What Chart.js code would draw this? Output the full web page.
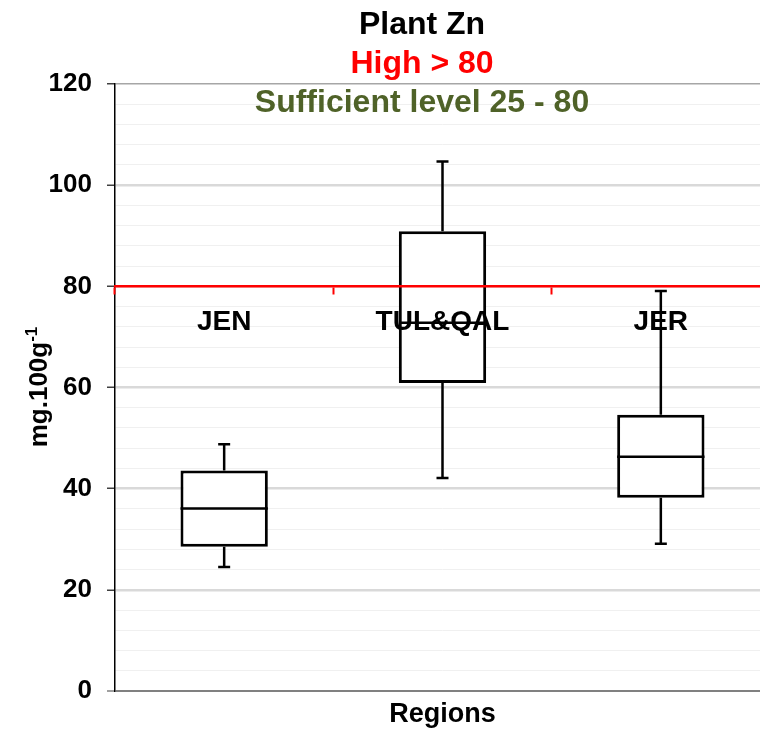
<!DOCTYPE html>
<html>
<head>
<meta charset="utf-8">
<script src="https://cdn.jsdelivr.net/npm/chart.js@4"></script>
<style>
  html, body { margin: 0; padding: 0; background: #fff; overflow: hidden; }
  canvas { display: block; }
</style>
</head>
<body>
<canvas id="zn" width="780" height="733"></canvas>
<script>
const FONT = "'Liberation Sans', Arial, sans-serif";

// box plot values per region (mg.100g-1)
const regions = ['JEN', 'TUL&QAL', 'JER'];
const whiskerLow = [24.5, 42.1, 29.1];
const q1 = [28.5, 60.9, 38.2];
const median = [36.1, 72.8, 46.3];
const q3 = [43.6, 90.9, 54.6];
const whiskerHigh = [48.8, 104.7, 79.1];

const yMin = 0;
const yMax = 120;
const yMajorStep = 20;
const yMinorStep = 4;
const highLevel = 80;

const titleLines = ['Plant Zn', 'High > 80', 'Sufficient level 25 - 80'];
const titleColors = ['#000000', '#ff0000', '#4f6228'];

// medians + whiskers on top of the floating bars
const whiskers = {
  id: 'whiskers',
  afterDatasetsDraw(chart) {
    const { ctx } = chart;
    const y = chart.scales.y;
    const meta = chart.getDatasetMeta(0);
    ctx.save();
    ctx.strokeStyle = '#000';
    ctx.lineWidth = 2.5;
    meta.data.forEach((bar, i) => {
      const half = bar.width / 2;
      const cap = 6;
      const yMed = y.getPixelForValue(median[i]);
      const yHi = y.getPixelForValue(whiskerHigh[i]);
      const yLo = y.getPixelForValue(whiskerLow[i]);
      const yQ3 = y.getPixelForValue(q3[i]);
      const yQ1 = y.getPixelForValue(q1[i]);
      ctx.beginPath();
      ctx.moveTo(bar.x - half, yMed); ctx.lineTo(bar.x + half, yMed);
      ctx.moveTo(bar.x, yQ3); ctx.lineTo(bar.x, yHi);
      ctx.moveTo(bar.x - cap, yHi); ctx.lineTo(bar.x + cap, yHi);
      ctx.moveTo(bar.x, yQ1); ctx.lineTo(bar.x, yLo);
      ctx.moveTo(bar.x - cap, yLo); ctx.lineTo(bar.x + cap, yLo);
      ctx.stroke();
    });
    ctx.restore();
  }
};

// titles and axis titles
const texts = {
  id: 'texts',
  afterDraw(chart) {
    const { ctx, chartArea } = chart;
    ctx.save();
    ctx.textAlign = 'center';
    ctx.textBaseline = 'alphabetic';
    ctx.font = 'bold 32px ' + FONT;
    const base = [34, 73, 112];
    titleLines.forEach((t, i) => {
      ctx.fillStyle = titleColors[i];
      ctx.fillText(t, 422, base[i]);
    });

    ctx.fillStyle = '#000';
    ctx.font = 'bold 27px ' + FONT;
    ctx.fillText('Regions', (chartArea.left + chartArea.right) / 2, 722);

    // y title with superscript
    ctx.translate(47, 387);
    ctx.rotate(-Math.PI / 2);
    ctx.textAlign = 'left';
    ctx.font = 'bold 26px ' + FONT;
    const main = 'mg.100g';
    const wMain = ctx.measureText(main).width;
    ctx.font = 'bold 17px ' + FONT;
    const wSup = ctx.measureText('-1').width;
    const x0 = -(wMain + wSup) / 2;
    ctx.font = 'bold 26px ' + FONT;
    ctx.fillText(main, x0, 0);
    ctx.font = 'bold 17px ' + FONT;
    ctx.fillText('-1', x0 + wMain, -10);
    ctx.restore();
  }
};

new Chart(document.getElementById('zn'), {
  type: 'bar',
  data: {
    labels: regions,
    datasets: [{
      data: regions.map((r, i) => [q1[i], q3[i]]),
      backgroundColor: '#ffffff',
      borderColor: '#000000',
      borderWidth: 3,
      borderSkipped: false,
      barPercentage: 0.4,
      categoryPercentage: 1
    }]
  },
  options: {
    responsive: false,
    animation: false,
    layout: { padding: { left: 40, top: 84, right: 10, bottom: 42 } },
    plugins: {
      legend: { display: false },
      tooltip: { enabled: false },
      title: { display: false }
    },
    scales: {
      x: {
        type: 'category',
        position: { y: highLevel },
        offset: true,
        z: 1,
        border: { color: '#ff0000', width: 2.5, z: 1 },
        grid: {
          offset: true,
          drawOnChartArea: false,
          drawTicks: true,
          tickLength: 7,
          tickColor: '#ff0000',
          tickWidth: 2,
          z: 1
        },
        ticks: {
          color: '#000',
          font: { family: FONT, size: 28, weight: 'bold' },
          padding: 12,
          z: 1
        }
      },
      y: {
        min: yMin,
        max: yMax,
        afterFit(scale) { scale.width = 75; },
        border: { color: '#000', width: 1.5 },
        grid: {
          color(c) {
            const v = c.tick.value;
            if (v === yMin) return '#808080';
            if (v === yMax) return '#a6a6a6';
            return v % yMajorStep === 0 ? '#d9d9d9' : '#f0f0f0';
          },
          lineWidth(c) {
            const v = c.tick.value;
            if (v === yMin) return 2;
            if (v === yMax) return 1.5;
            return v % yMajorStep === 0 ? 2.5 : 1;
          },
          tickLength: 8,
          tickColor(c) {
            const v = c.tick.value;
            if (v === yMin) return '#808080';
            return v % yMajorStep === 0 ? '#404040' : 'rgba(0,0,0,0)';
          },
          tickWidth: 1.5
        },
        ticks: {
          stepSize: yMinorStep,
          autoSkip: false,
          color: '#000',
          padding: 15,
          font: { family: FONT, size: 26, weight: 'bold' },
          callback: v => (v % yMajorStep === 0 ? v : '')
        }
      }
    }
  },
  plugins: [whiskers, texts]
});
</script>
</body>
</html>
